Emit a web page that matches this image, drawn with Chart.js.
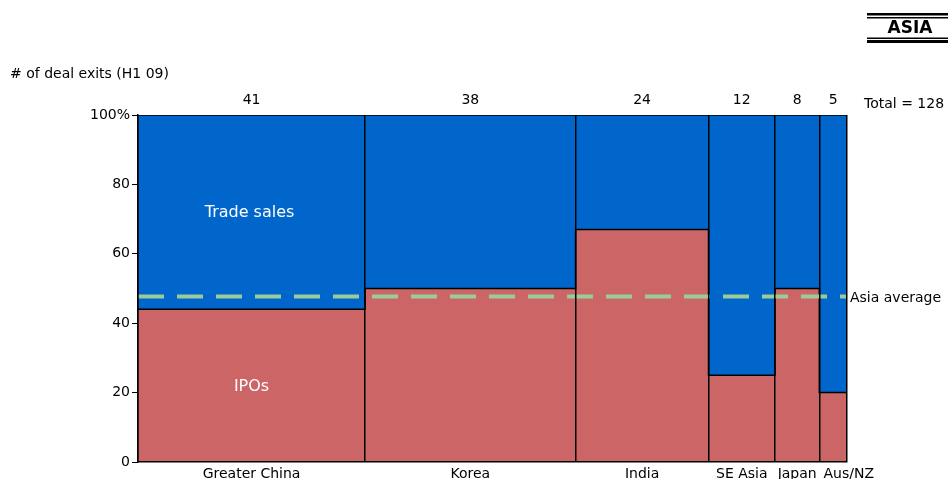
<!DOCTYPE html>
<html>
<head>
  <title>Asia deal exits</title>
  <script src="https://cdn.jsdelivr.net/npm/chart.js"></script>
  <style>
    html, body { margin: 0; padding: 0; background: #fff; }
    #wrap { width: 948px; height: 479px; }
  </style>
</head>
<body>
<div id="wrap"><canvas id="exitsChart" width="948" height="479"></canvas></div>

<script>
  // values
  const categories = ['Greater China', 'Korea', 'India', 'SE Asia', 'Japan', 'Aus/NZ'];
  const dealExits = [41, 38, 24, 12, 8, 5];
  const ipoShare = [44, 50, 67, 25, 50, 20];   // % of exits that were IPOs
  const asiaAverage = 47.7;                     // 61 IPOs of 128 exits
  const yTicks = [0, 20, 40, 60, 80, 100];

  const FONT = 'DejaVu Sans';
  const total = dealExits.reduce((a, b) => a + b, 0);

  // column edges and centres along the x axis (count of exits)
  const edges = [0];
  dealExits.forEach(n => edges.push(edges[edges.length - 1] + n));
  const mids = dealExits.map((n, i) => edges[i] + n / 2);

  // stepped lines: value i holds from edges[i] to edges[i+1]
  const ipoLine = edges.map((x, i) => ({ x: x, y: ipoShare[Math.min(i, ipoShare.length - 1)] }));
  const tradeLine = edges.map(x => ({ x: x, y: 100 }));
  const avgLine = [{ x: 0, y: asiaAverage }, { x: total, y: asiaAverage }];

  const extras = {
    id: 'extras',
    afterDraw(chart) {
      const c = chart.ctx;
      const area = chart.chartArea;
      const x = chart.scales.x, y = chart.scales.y;
      c.save();
      c.fillStyle = '#000';
      c.textBaseline = 'middle';

      // header box
      c.fillRect(867, 13, 81, 2.5);
      c.fillRect(867, 17, 81, 1.5);
      c.fillRect(867, 37.5, 81, 1.5);
      c.fillRect(867, 40, 81, 3);
      c.font = 'bold 17px ' + FONT;
      c.textAlign = 'center';
      c.fillText('ASIA', 910, 29);

      c.font = '14px ' + FONT;
      c.textAlign = 'left';
      c.fillText('# of deal exits (H1 09)', 10, 74);
      c.fillText('Total = ' + total, area.right + 17, 104);
      c.fillText('Asia average', area.right + 3, y.getPixelForValue(asiaAverage) + 2);

      // segment labels in the first column
      c.fillStyle = '#fff';
      c.textAlign = 'center';
      c.font = '16px ' + FONT;
      const cx = x.getPixelForValue(mids[0]);
      c.fillText('Trade sales', cx - 2, y.getPixelForValue((ipoShare[0] + 100) / 2) + 1);
      c.fillText('IPOs', cx, y.getPixelForValue(ipoShare[0] / 2) + 1);
      c.restore();
    }
  };

  const ctx = document.getElementById('exitsChart').getContext('2d');
  const chart = new Chart(ctx, {
    type: 'line',
    data: {
      datasets: [
        {
          label: 'Asia average',
          data: avgLine,
          borderColor: '#99cc99',
          borderWidth: 4,
          borderDash: [26, 13],
          pointRadius: 0,
          fill: false,
          order: 0
        },
        {
          label: 'IPOs',
          data: ipoLine,
          stepped: 'before',
          borderColor: '#000',
          borderWidth: 1.5,
          backgroundColor: '#cc6666',
          pointRadius: 0,
          fill: 'origin',
          order: 1
        },
        {
          label: 'Trade sales',
          data: tradeLine,
          stepped: 'before',
          borderColor: '#000',
          borderWidth: 1.5,
          backgroundColor: '#0066cc',
          pointRadius: 0,
          fill: 'origin',
          order: 2
        }
      ]
    },
    options: {
      responsive: false,
      animation: false,
      layout: { padding: { top: 85, right: 101, left: 0, bottom: 0 } },
      plugins: {
        legend: { display: false },
        tooltip: { enabled: false },
        title: { display: false }
      },
      scales: {
        x: {
          type: 'linear',
          position: 'bottom',
          min: 0,
          max: total,
          afterBuildTicks(scale) {
            scale.ticks = edges.concat(mids).sort((a, b) => a - b).map(v => ({ value: v }));
          },
          afterFit(scale) { scale.height = 17; },
          grid: {
            z: 1,
            drawTicks: false,
            lineWidth: 1.5,
            color: c => (c.tick && edges.includes(c.tick.value)) ? '#000' : 'rgba(0,0,0,0)'
          },
          border: { z: 2, color: '#000', width: 1.5 },
          ticks: {
            autoSkip: false,
            maxRotation: 0,
            padding: 4,
            color: '#000',
            font: { family: FONT, size: 14 },
            callback: v => {
              const i = mids.indexOf(v);
              if (i < 0) return '';
              // last label is nudged right in the original so it clears "Japan"
              return i === categories.length - 1 ? '       ' + categories[i] : categories[i];
            }
          }
        },
        x2: {
          type: 'linear',
          position: 'top',
          min: 0,
          max: total,
          afterBuildTicks(scale) {
            scale.ticks = mids.map(v => ({ value: v }));
          },
          afterFit(scale) { scale.height = 30; },
          grid: { display: false, drawTicks: false },
          border: { display: false },
          ticks: {
            autoSkip: false,
            maxRotation: 0,
            padding: 6,
            color: '#000',
            font: { family: FONT, size: 14 },
            callback: v => String(dealExits[mids.indexOf(v)])
          }
        },
        y: {
          min: 0,
          max: 100,
          afterBuildTicks(scale) {
            scale.ticks = yTicks.map(v => ({ value: v }));
          },
          afterFit(scale) { scale.width = 138; },
          grid: { drawOnChartArea: false, tickLength: 6, color: '#000', lineWidth: 1 },
          border: { z: 2, color: '#000', width: 1.5 },
          ticks: {
            padding: 2,
            color: '#000',
            font: { family: FONT, size: 14 },
            callback: v => v === 100 ? '100%' : String(v)
          }
        }
      }
    },
    plugins: [extras]
  });
</script>

</body>
</html>
